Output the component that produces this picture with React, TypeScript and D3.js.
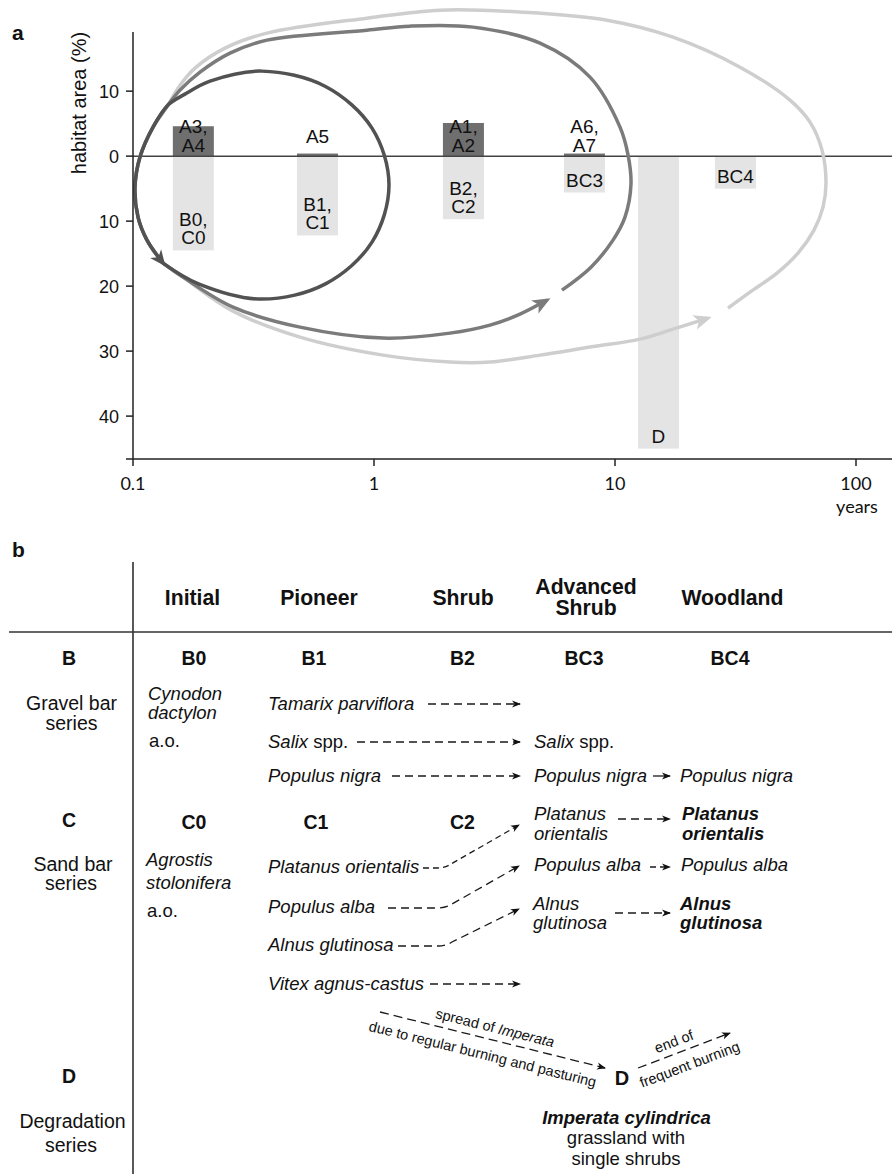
import React from 'react';
import * as d3 from 'd3';

// ---------- Panel a data ----------
const barYears = [0.178, 0.583, 2.35, 7.47, 15.15, 31.6];
const upValues = [4.6, 0.4, 5.1, 0.4, 0, 0];
const downValues = [14.5, 12.2, 9.7, 5.6, 45, 5.0];
const upLabels = [["A3,", "A4"], ["A5"], ["A1,", "A2"], ["A6,", "A7"], [], []];
const downLabels = [["B0,", "C0"], ["B1,", "C1"], ["B2,", "C2"], ["BC3"], ["D"], ["BC4"]];
const xTickValues = [0.1, 1, 10, 100];
const xTickLabels = ["0.1", "1", "10", "100"];
const yTickValues = [10, 0, -10, -20, -30, -40];

// succession loops, [years, habitat area %] (positive = up, negative = down)
const loopTail: [number, number][] = [[0.1397, 7.85], [0.1211, 4.46], [0.1069, -0.15], [0.1019, -4.77], [0.1049, -9.38], [0.1143, -12.92], [0.1332, -16.46]];
const loop1: [number, number][] = [[0.1332, -16.46], [0.187, -19.65], [0.3429, -22.0], [0.6291, -19.65], [0.981, -13.23], [1.154, -4.46], [0.981, 4.31], [0.6291, 10.72], [0.3429, 13.08], [0.2087, 11.54], [0.1643, 9.54], ...loopTail];
const loop2a: [number, number][] = [[0.1332, -16.46], [0.1612, -18.62], [0.26, -23.23], [0.4931, -26.31], [1.09, -28.0], [2.067, -27.23], [3.029, -26.0], [4.035, -24.31], [5.222, -22.15]];
const loop2b: [number, number][] = [[6.027, -20.62], [7.95, -17.08], [9.81, -12.92], [11.0, -9.38], [11.65, -4.31], [11.33, 0.15], [10.49, 4.46], [7.876, 12.15], [4.885, 17.38], [2.575, 19.85], [1.411, 20.0], [0.9354, 19.38], [0.3597, 17.85], [0.2526, 15.85], [0.1897, 12.92], [0.1567, 10.15], ...loopTail];
const loop3a: [number, number][] = [[0.1332, -16.46], [0.1612, -18.62], [0.26, -23.85], [0.4931, -27.85], [1.09, -30.62], [2.067, -31.69], [3.029, -31.69], [4.885, -30.62], [7.876, -29.38], [12.7, -28.15], [17.41, -26.62], [24.31, -24.92]];
const loop3b: [number, number][] = [[29.44, -23.38], [36.33, -20.92], [47.01, -18.0], [57.45, -14.92], [66.94, -11.38], [72.98, -7.85], [75.08, -4.15], [72.27, 0.92], [64.43, 5.23], [53.22, 8.62], [33.02, 13.69], [17.41, 18.31], [9.265, 20.92], [4.153, 22.15], [1.879, 22.46], [0.9354, 21.23], [0.3597, 18.92], [0.2408, 16.62], [0.1808, 13.54], [0.1537, 10.46], ...loopTail];

// ---------- Panel b text ----------
const stageHeaders = [["Initial"], ["Pioneer"], ["Shrub"], ["Advanced", "Shrub"], ["Woodland"]];
const bCodes = ["B0", "B1", "B2", "BC3", "BC4"];
const cCodes = ["C0", "C1", "C2"];

const W = 892, H = 1174;
const SANS = "'Liberation Sans', Arial, Helvetica, sans-serif";
const TICK = "Lato, 'Open Sans', sans-serif";

export default function App() {
  const x = d3.scaleLog().domain([0.1, 100]).range([133, 856]);
  const y = d3.scaleLinear().domain([-46.6, 19.1]).range([459, 32]);
  const line = d3.line<[number, number]>().x(d => x(d[0])).y(d => y(d[1])).curve(d3.curveCatmullRom.alpha(0.5));
  const y0 = y(0);
  const bw = 41;

  const dark = '#525252', gray = '#7b7b7b', light = '#cecece';
  const ink = '#111';
  const dash = { stroke: '#1a1a1a', strokeWidth: 1.3, strokeDasharray: '8 5', fill: 'none' } as const;

  return (
    <svg width={W} height={H} style={{ position: 'absolute', left: 0, top: 0, background: '#fff' }} fontFamily={SANS}>
      <defs>
        {[['ahDark', dark, 16, 7, 12], ['ahGray', gray, 18, 7.5, 14], ['ahLight', light, 18, 7.5, 14]].map(([id, c, L, hw, rx]) => (
          <marker key={id as string} id={id as string} viewBox="-2 -10 24 20" markerWidth={24} markerHeight={20} refX={rx as number} refY={0} orient="auto" markerUnits="userSpaceOnUse">
            <path d={`M0,${-(hw as number)} L${L},0 L0,${hw} L4.5,0 Z`} fill={c as string} />
          </marker>
        ))}
        <marker id="ahSmall" viewBox="-1 -5 11 10" markerWidth={11} markerHeight={10} refX={8} refY={0} orient="auto" markerUnits="userSpaceOnUse">
          <path d="M0,-3.6 L9,0 L0,3.6 L2.5,0 Z" fill="#111" />
        </marker>
      </defs>

      {/* ================= Panel a ================= */}
      <text x={12} y={40} fontSize={21} fontWeight="bold" fill={ink}>a</text>

      {barYears.map((yr, i) => (
        <rect key={'d' + i} x={x(yr) - bw / 2} y={y0} width={bw} height={y(-downValues[i]) - y0} fill="#e4e4e4" />
      ))}
      {barYears.map((yr, i) => upValues[i] > 0 ? (
        <rect key={'u' + i} x={x(yr) - bw / 2} y={y(upValues[i])} width={bw} height={y0 - y(upValues[i])} fill="#6f6f6f" />
      ) : null)}

      <line x1={133} x2={892} y1={y0} y2={y0} stroke="#444" strokeWidth={1.5} />

      <path d={line(loop3a)!} fill="none" stroke={light} strokeWidth={3.5} markerEnd="url(#ahLight)" />
      <path d={line(loop3b)!} fill="none" stroke={light} strokeWidth={3.5} />
      <path d={line(loop2a)!} fill="none" stroke={gray} strokeWidth={3.5} markerEnd="url(#ahGray)" />
      <path d={line(loop2b)!} fill="none" stroke={gray} strokeWidth={3.5} />
      <path d={line(loop1)!} fill="none" stroke={dark} strokeWidth={3.5} markerEnd="url(#ahDark)" />

      {barYears.map((yr, i) => {
        const lines = upLabels[i];
        const n = lines.length;
        const last = n > 1 ? y0 - 4 : y0 - 13;
        return lines.map((t, j) => (
          <text key={'ul' + i + j} x={x(yr)} y={last - (n - 1 - j) * 19} fontSize={19} textAnchor="middle" fill={ink}>{t}</text>
        ));
      })}
      {barYears.map((yr, i) => {
        const lines = downLabels[i];
        const n = lines.length;
        const last = y(-downValues[i]) - 6;
        return lines.map((t, j) => (
          <text key={'dl' + i + j} x={x(yr)} y={last - (n - 1 - j) * 18.5} fontSize={19} textAnchor="middle" fill={ink}>{t}</text>
        ));
      })}

      {/* axes */}
      <line x1={133} x2={133} y1={y(19.1)} y2={y(-46.6)} stroke="#222" strokeWidth={1.5} />
      {yTickValues.map(v => (
        <g key={'yt' + v}>
          <line x1={126} x2={133} y1={y(v)} y2={y(v)} stroke="#222" strokeWidth={1.5} />
          <text x={119} y={y(v)} dy="0.36em" textAnchor="end" fontSize={18} fill={ink}>{Math.abs(v)}</text>
        </g>
      ))}
      <line x1={126} x2={892} y1={y(-46.6)} y2={y(-46.6)} stroke="#222" strokeWidth={1.5} />
      {xTickValues.map((v, i) => (
        <g key={'xt' + v}>
          <line x1={x(v)} x2={x(v)} y1={y(-46.6)} y2={y(-46.6) + 7} stroke="#222" strokeWidth={1.5} />
          <text x={x(v)} y={490} textAnchor="middle" fontSize={18} fontFamily={TICK} fill={ink}>{xTickLabels[i]}</text>
        </g>
      ))}
      <text x={857} y={513} textAnchor="middle" fontSize={18} fontFamily={TICK} fill={ink}>years</text>
      <text transform="translate(86,103) rotate(-90)" textAnchor="middle" fontSize={20} fill={ink}>habitat area (%)</text>

      {/* ================= Panel b ================= */}
      <text x={12} y={557} fontSize={21} fontWeight="bold" fill={ink}>b</text>
      <line x1={133} x2={133} y1={562} y2={1174} stroke="#222" strokeWidth={1.5} />
      <line x1={9} x2={892} y1={632} y2={632} stroke="#333" strokeWidth={1.5} />

      {/* headers */}
      {stageHeaders.map((h, i) => {
        const xs = [192.5, 319, 463, 586, 732.5];
        const ys = h.length > 1 ? [594, 615] : [605];
        return h.map((t, j) => (
          <text key={'h' + i + j} x={xs[i]} y={ys[j]} fontSize={21.2} fontWeight="bold" textAnchor="middle" fill={ink}>{t}</text>
        ));
      })}

      {/* left column */}
      <g fill={ink} textAnchor="middle">
        <text x={69} y={665} fontSize={19.5} fontWeight="bold">B</text>
        <text x={71.5} y={710} fontSize={19.5}>Gravel bar</text>
        <text x={71.5} y={730} fontSize={19.5}>series</text>
        <text x={69} y={827} fontSize={19.5} fontWeight="bold">C</text>
        <text x={73} y={871} fontSize={19.5}>Sand bar</text>
        <text x={71} y={890} fontSize={19.5}>series</text>
        <text x={69} y={1083} fontSize={19.5} fontWeight="bold">D</text>
        <text x={72.5} y={1128} fontSize={19.5}>Degradation</text>
        <text x={71} y={1152} fontSize={19.5}>series</text>
      </g>

      {/* codes */}
      {bCodes.map((c, i) => {
        const xs = [194, 314, 462.5, 584, 730];
        return <text key={c} x={xs[i]} y={665} fontSize={19.5} fontWeight="bold" textAnchor="middle" fill={ink}>{c}</text>;
      })}
      {cCodes.map((c, i) => {
        const xs = [194, 316, 462.5];
        return <text key={c} x={xs[i]} y={829} fontSize={19.5} fontWeight="bold" textAnchor="middle" fill={ink}>{c}</text>;
      })}

      {/* initial column */}
      <g fill={ink} fontSize={18.5}>
        <text x={148} y={700} fontStyle="italic">Cynodon</text>
        <text x={148} y={719} fontStyle="italic">dactylon</text>
        <text x={149} y={747}>a.o.</text>
        <text x={146} y={866} fontStyle="italic">Agrostis</text>
        <text x={146} y={889} fontStyle="italic">stolonifera</text>
        <text x={147} y={917}>a.o.</text>
      </g>

      {/* pioneer column species */}
      <g fill={ink} fontSize={18.5}>
        <text x={268} y={710} fontStyle="italic">Tamarix parviflora</text>
        <text x={268} y={748}><tspan fontStyle="italic">Salix</tspan> spp.</text>
        <text x={268} y={782} fontStyle="italic">Populus nigra</text>
        <text x={268} y={873} fontStyle="italic">Platanus orientalis</text>
        <text x={268} y={913} fontStyle="italic">Populus alba</text>
        <text x={268} y={951} fontStyle="italic">Alnus glutinosa</text>
        <text x={268} y={990} fontStyle="italic">Vitex agnus-castus</text>
      </g>

      {/* advanced shrub column */}
      <g fill={ink} fontSize={18.5}>
        <text x={534} y={748}><tspan fontStyle="italic">Salix</tspan> spp.</text>
        <text x={534} y={782} fontStyle="italic">Populus nigra</text>
        <text x={534} y={820} fontStyle="italic">Platanus</text>
        <text x={534} y={840} fontStyle="italic">orientalis</text>
        <text x={534} y={871} fontStyle="italic">Populus alba</text>
        <text x={533} y={910} fontStyle="italic">Alnus</text>
        <text x={533} y={929} fontStyle="italic">glutinosa</text>
      </g>

      {/* woodland column */}
      <g fill={ink} fontSize={18.5}>
        <text x={680} y={782} fontStyle="italic">Populus nigra</text>
        <text x={682} y={820} fontStyle="italic" fontWeight="bold">Platanus</text>
        <text x={682} y={840} fontStyle="italic" fontWeight="bold">orientalis</text>
        <text x={681} y={871} fontStyle="italic">Populus alba</text>
        <text x={680} y={910} fontStyle="italic" fontWeight="bold">Alnus</text>
        <text x={680} y={929} fontStyle="italic" fontWeight="bold">glutinosa</text>
      </g>

      {/* arrows */}
      <g>
        <path d="M428,704 H520" {...dash} markerEnd="url(#ahSmall)" />
        <path d="M357,742 H520" {...dash} markerEnd="url(#ahSmall)" />
        <path d="M392,776 H520" {...dash} markerEnd="url(#ahSmall)" />
        <path d="M430,984 H520" {...dash} markerEnd="url(#ahSmall)" />
        <path d="M653,776 H670" {...dash} strokeDasharray="none" markerEnd="url(#ahSmall)" />
        <path d="M618,819 H670" {...dash} markerEnd="url(#ahSmall)" />
        <path d="M650,867 H670" {...dash} strokeDasharray="6 4" markerEnd="url(#ahSmall)" />
        <path d="M615,913 H670" {...dash} markerEnd="url(#ahSmall)" />
        <path d="M423,868 H437 Q445,868 451,864 L519,825" {...dash} strokeDasharray="6 4" markerEnd="url(#ahSmall)" />
        <path d="M388,908 H438 Q446,908 452,904 L519,866" {...dash} markerEnd="url(#ahSmall)" />
        <path d="M398,946 H438 Q446,946 452,942 L519,909" {...dash} markerEnd="url(#ahSmall)" />
        <path d="M380,1012 L605,1068" {...dash} strokeDasharray="9 5" markerEnd="url(#ahSmall)" />
        <path d="M638,1068 L730,1033" {...dash} strokeDasharray="9 5" markerEnd="url(#ahSmall)" />
      </g>

      {/* degradation annotations */}
      <g fill={ink} fontSize={14.5} textAnchor="middle">
        <g transform="translate(380,1012) rotate(13.98)">
          <text x={115.4} y={-7.5}>spread of <tspan fontStyle="italic">Imperata</tspan></text>
          <text x={109.8} y={21}>due to regular burning and pasturing</text>
        </g>
        <g transform="translate(638,1068) rotate(-20.83)">
          <text x={43} y={-7}>end of</text>
          <text x={49.5} y={20}>frequent burning</text>
        </g>
      </g>
      <text x={622} y={1085} fontSize={20} fontWeight="bold" textAnchor="middle" fill={ink}>D</text>
      <g fill={ink} fontSize={18.5} textAnchor="middle">
        <text x={626.5} y={1124} fontStyle="italic" fontWeight="bold">Imperata cylindrica</text>
        <text x={626} y={1144}>grassland with</text>
        <text x={626} y={1165}>single shrubs</text>
      </g>
    </svg>
  );
}
